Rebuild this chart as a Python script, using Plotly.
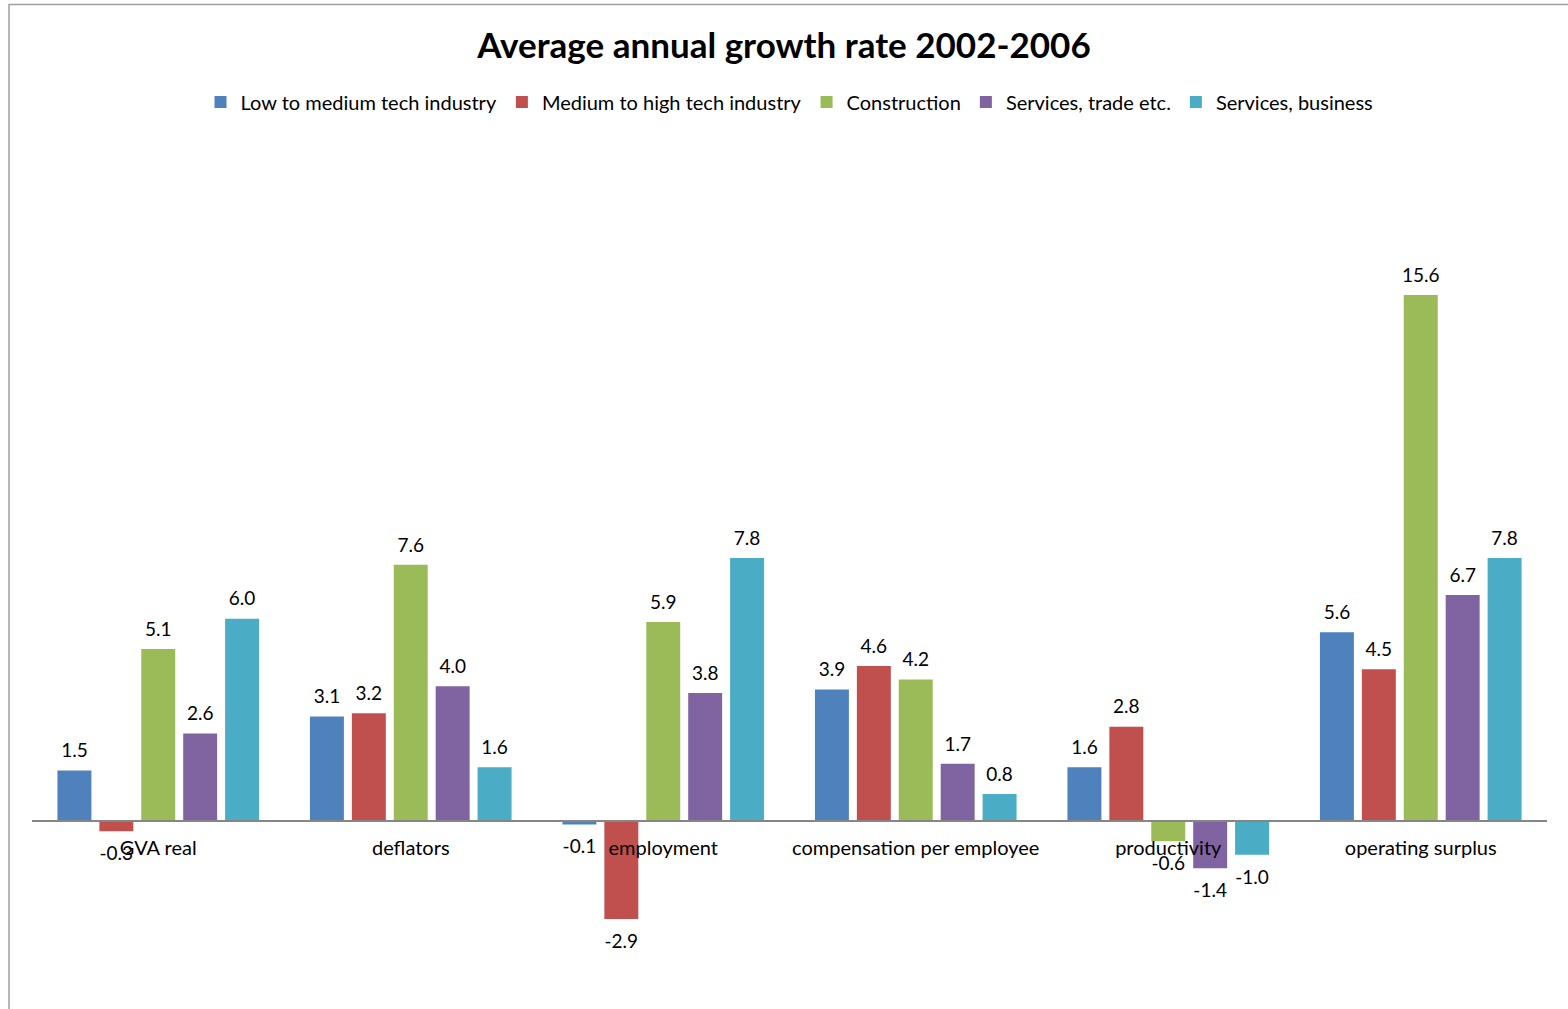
import plotly.graph_objects as go

categories = ["GVA real", "deflators", "employment", "compensation per employee", "productivity", "operating surplus"]
series_names = ["Low to medium tech industry", "Medium to high tech industry", "Construction",
                "Services, trade etc.", "Services, business"]
low_medium = [1.5, 3.1, -0.1, 3.9, 1.6, 5.6]
medium_high = [-0.3, 3.2, -2.9, 4.6, 2.8, 4.5]
construction = [5.1, 7.6, 5.9, 4.2, -0.6, 15.6]
services_trade = [2.6, 4.0, 3.8, 1.7, -1.4, 6.7]
services_business = [6.0, 1.6, 7.8, 0.8, -1.0, 7.8]
colors = ["#4F81BD", "#C0504D", "#9BBB59", "#8064A2", "#4BACC6"]

FONT = "Lato, 'Open Sans', sans-serif"
BARGAP = 0.17
BARGROUPGAP = 0.19

all_series = [low_medium, medium_high, construction, services_trade, services_business]
n = len(all_series)
xpos = list(range(len(categories)))
slot = (1 - BARGAP) / n

fig = go.Figure()
for name, vals, col in zip(series_names, all_series, colors):
    fig.add_trace(go.Bar(
        x=xpos, y=vals, name=name,
        marker=dict(color=col, line=dict(width=0)),
        hoverinfo="name+y",
    ))

# data labels, placed at each bar's slot centre
for k, vals in enumerate(all_series):
    xs = [i + (k - (n - 1) / 2) * slot for i in xpos]
    fig.add_trace(go.Scatter(
        x=xs, y=vals, mode="markers+text",
        text=[f"{v:.1f}" for v in vals],
        textposition=["top center" if v >= 0 else "bottom center" for v in vals],
        textfont=dict(family=FONT, size=19, color="#000000"),
        marker=dict(size=[12 if v >= 0 else 22 for v in vals], opacity=0),
        showlegend=False, hoverinfo="skip", cliponaxis=False,
    ))

W, H = 1568, 1009
l, r, t, b = 31.5, 20.5, 214, 53
ymin, ymax = -4, 18
zero_pos = (0 - ymin) / (ymax - ymin)

fig.update_layout(
    width=W, height=H,
    margin=dict(l=l, r=r, t=t, b=b, autoexpand=False),
    paper_bgcolor="white", plot_bgcolor="white",
    barmode="group", bargap=BARGAP, bargroupgap=BARGROUPGAP,
    title=dict(text="<b>Average annual growth rate 2002-2006</b>", x=0.5, xanchor="center",
               y=1 - 46 / H, yanchor="middle",
               font=dict(family=FONT, size=35, color="#000000")),
    legend=dict(orientation="h", x=0.5, xanchor="center", y=1 - 102 / H, yanchor="middle",
                yref="container",
                font=dict(family=FONT, size=20, color="#000000"),
                itemsizing="constant", traceorder="normal"),
    xaxis=dict(anchor="free", position=zero_pos, showline=True, linecolor="#868686", linewidth=1.5,
               range=[-0.5, len(categories) - 0.5],
               tickmode="array", tickvals=xpos, ticktext=categories,
               ticks="outside", ticklen=9, tickcolor="rgba(0,0,0,0)", showgrid=False, zeroline=False,
               tickfont=dict(family=FONT, size=20, color="#000000")),
    yaxis=dict(range=[ymin, ymax], visible=False, showgrid=False, zeroline=False),
    showlegend=True,
    shapes=[dict(type="rect", xref="paper", yref="paper",
                 x0=(8.5 - l) / (W - l - r), x1=(1600 - l) / (W - l - r),
                 y0=-0.2, y1=1 + (t - 4.5) / (H - t - b),
                 line=dict(color="#A0A0A0", width=1.5), fillcolor="rgba(0,0,0,0)", layer="below")],
)

fig.write_html("out.html")
